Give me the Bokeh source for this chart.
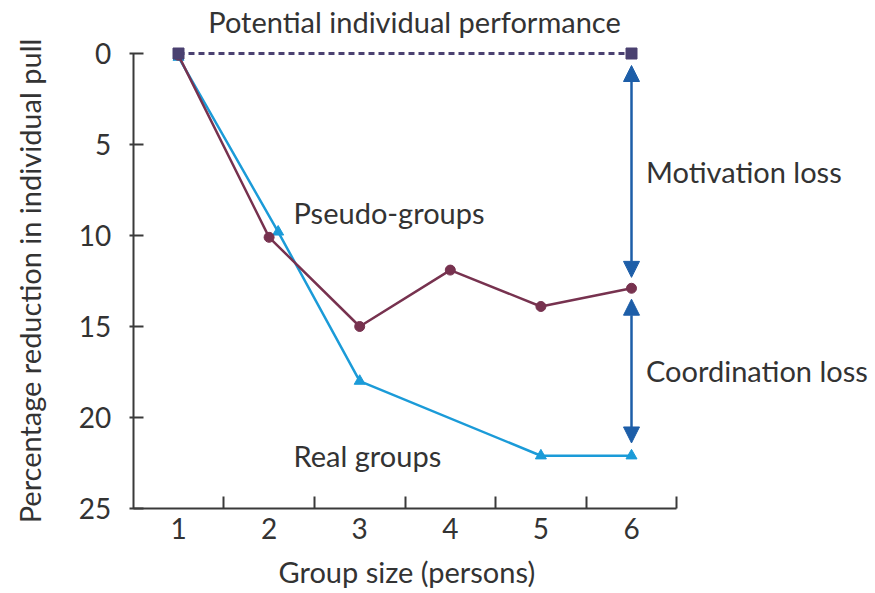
import math
from bokeh.plotting import figure
from bokeh.models import Range1d, FixedTicker, Arrow, NormalHead, ColumnDataSource
from bokeh.core.properties import value
from bokeh.embed import file_html
from bokeh.resources import INLINE

# ---- data ----
group_sizes = [1, 2, 3, 4, 5, 6]
x_boundaries = [1.5, 2.5, 3.5, 4.5, 5.5, 6.5]
y_ticks = [0, 5, 10, 15, 20, 25]

potential_x = [1, 6]
potential_y = [0, 0]

pseudo_x = [1, 2, 3, 4, 5, 6]
pseudo_y = [0.1, 10.1, 15.0, 11.9, 13.9, 12.9]

real_x = [1, 2.1, 3, 5, 6]
real_y = [0.2, 9.8, 18.0, 22.1, 22.1]

arrow_x = 6
motivation_span = [0.66, 12.3]
coordination_span = [13.5, 21.4]

label_texts = ["Potential individual performance", "Pseudo-groups", "Real groups",
               "Motivation loss", "Coordination loss"]
x_title = "Group size (persons)"
y_title = "Percentage reduction in individual pull"

# ---- styling / geometry ----
FONT = "Lato"
TXT = "#333333"
AXC = "#3a3a3a"
MAROON = "#77324f"
BLUE = "#1b9bd8"
ARROW_BLUE = "#1d5ea8"
PURPLE = "#4a4170"

W, H = 872, 590
X0_PX, PX_X = 132.7, 90.6   # pixel of x=0.5, px per unit
Y0_PX, PX_Y = 53.0, 18.2    # pixel of y=0, px per unit

x_start = 0.5 - X0_PX / PX_X
x_end = 0.5 + (W - X0_PX) / PX_X
y_top = -Y0_PX / PX_Y
y_bottom = (H - Y0_PX) / PX_Y

p = figure(width=W, height=H, output_backend="svg", toolbar_location=None,
           x_range=Range1d(x_start, x_end), y_range=Range1d(y_bottom, y_top),
           min_border_left=0, min_border_right=0, min_border_top=0,
           min_border_bottom=0)
p.outline_line_color = None
p.grid.visible = False
p.background_fill_color = "white"
p.border_fill_color = "white"

xa = p.xaxis[0]
xa.fixed_location = 25
xa.ticker = FixedTicker(ticks=group_sizes, minor_ticks=x_boundaries)
xa.bounds = (0.5, 6.5)
xa.major_tick_in = 0
xa.major_tick_out = 0
xa.minor_tick_in = 12
xa.minor_tick_out = 0
xa.minor_tick_line_color = AXC
xa.minor_tick_line_width = 2
xa.axis_line_color = AXC
xa.axis_line_width = 2
xa.major_label_text_font = FONT
xa.major_label_text_font_size = "28px"
xa.major_label_text_color = TXT
xa.major_label_standoff = 9

ya = p.yaxis[0]
ya.fixed_location = 0.5
ya.ticker = FixedTicker(ticks=y_ticks)
ya.bounds = (0, 25)
ya.major_tick_in = 10
ya.major_tick_out = 4
ya.minor_tick_in = 0
ya.minor_tick_out = 0
ya.major_tick_line_color = AXC
ya.major_tick_line_width = 2
ya.axis_line_color = AXC
ya.axis_line_width = 2
ya.major_label_text_font = FONT
ya.major_label_text_font_size = "28px"
ya.major_label_text_color = TXT
ya.major_label_standoff = 18

# potential line
p.line(potential_x, potential_y, line_color=PURPLE, line_width=3, line_dash="6 4")

# real groups
p.line(real_x, real_y, line_color=BLUE, line_width=2.5)
p.scatter(real_x, real_y, marker="triangle", size=11, fill_color=BLUE, line_color=BLUE)

# pseudo groups
p.line(pseudo_x, pseudo_y, line_color=MAROON, line_width=2.5)
p.scatter(pseudo_x, pseudo_y, marker="circle", size=10, fill_color=MAROON, line_color=MAROON)

p.scatter(potential_x, potential_y, marker="square", size=11, fill_color=PURPLE, line_color=PURPLE)

# arrows
for span in (motivation_span, coordination_span):
    p.add_layout(Arrow(x_start=arrow_x, y_start=span[0], x_end=arrow_x, y_end=span[1],
                       line_color=ARROW_BLUE, line_width=2.5,
                       start=NormalHead(size=16, fill_color=ARROW_BLUE, line_color=ARROW_BLUE),
                       end=NormalHead(size=16, fill_color=ARROW_BLUE, line_color=ARROW_BLUE)))

# in-plot labels
lab = ColumnDataSource(dict(
    x=[3.605, 2.27, 2.27, 6.16, 6.16],
    y=[-1.76, 8.72, 22.09, 6.48, 17.42],
    text=label_texts,
    align=["center", "left", "left", "left", "left"],
))
p.text(x="x", y="y", text="text", text_align="align", source=lab,
       text_baseline="alphabetic", text_font=value(FONT), text_font_size="29px",
       text_color=TXT)

# axis titles
p.text(x=[3.52], y=[28.46], text=[x_title], text_align="center",
       text_baseline="alphabetic", text_font=value(FONT), text_font_size="29px",
       text_color=TXT)
p.text(x=[-0.645], y=[12.5], text=[y_title], angle=math.pi / 2,
       text_align="center", text_baseline="alphabetic", text_font=value(FONT),
       text_font_size="29px", text_color=TXT)

open("out.html", "w").write(file_html(p, INLINE))
